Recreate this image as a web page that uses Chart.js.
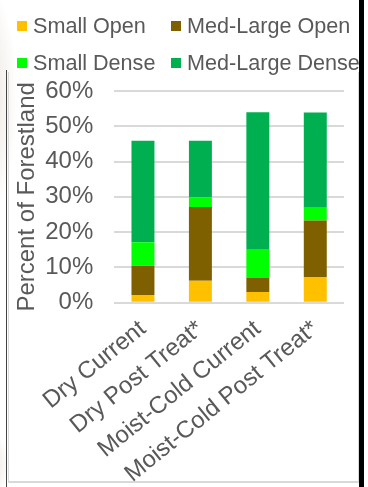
<!DOCTYPE html>
<html>
<head>
<meta charset="utf-8">
<script src="https://cdn.jsdelivr.net/npm/chart.js@4"></script>
<style>
  html, body { margin: 0; padding: 0; background: #fff; }
  body { width: 368px; height: 487px; position: relative; overflow: hidden; font-family: "Liberation Sans", Arial, sans-serif; }
  #sketchTop { position: absolute; left: -30px; top: -20px; width: 48px; height: 240px; background: radial-gradient(ellipse at 30% 50%, rgba(190,170,150,0.35), rgba(255,255,255,0) 70%); }
  #sketchBot { position: absolute; left: -20px; top: 430px; width: 30px; height: 70px; background: radial-gradient(ellipse at 30% 50%, rgba(190,170,150,0.35), rgba(255,255,255,0) 70%); }
  #darkLine { position: absolute; left: 6px; top: 70px; width: 1px; height: 417px; background: #444; }
  #panel { position: absolute; left: 8px; top: 72px; width: 349px; height: 409px; border-left: 1px solid #d9d9d9; border-right: 2px solid #d9d9d9; border-bottom: 2px solid #d9d9d9; }
  #blackBar { position: absolute; left: 359px; top: 0; width: 5px; height: 487px; background: #000; }
  #hourChart { position: absolute; left: 0; top: 0; }
  .lg { position: absolute; display: flex; align-items: center; font-size: 21.6px; color: #595959; line-height: 1; white-space: nowrap; }
  .lg span.box { width: 10px; height: 10px; margin-right: 6px; display: inline-block; }
</style>
</head>
<body>
<div id="sketchTop"></div>
<div id="sketchBot"></div>
<div id="darkLine"></div>
<div id="panel"></div>
<canvas id="hourChart" width="368" height="487"></canvas>
<div id="legend"></div>
<div id="blackBar"></div>
<script>
const categories = ["Dry Current", "Dry Post Treat*", "Moist-Cold Current", "Moist-Cold Post Treat*"];
const seriesNames = ["Small Open", "Med-Large Open", "Small Dense", "Med-Large Dense"];
const seriesColors = ["#FFC000", "#7F6000", "#00FF00", "#00B050"];
const smallOpen = [2.2, 6.2, 3.0, 7.3];
const medLargeOpen = [8.3, 20.9, 4.0, 16.0];
const smallDense = [6.6, 2.8, 8.0, 3.6];
const medLargeDense = [28.8, 16.0, 39.0, 27.0];
const yTicks = [0, 10, 20, 30, 40, 50, 60];

(() => {
    document.addEventListener("DOMContentLoaded", init);

    function init() {
        renderLegend();
        renderChart();
    }

    function renderLegend() {
        // two columns, two rows like the original slide
        const spots = [[17, 15], [171, 15], [17, 52], [171, 52]];
        const legend = document.getElementById("legend");
        seriesNames.forEach((name, i) => {
            const item = document.createElement("div");
            item.className = "lg";
            item.style.left = spots[i][0] + "px";
            item.style.top = spots[i][1] + "px";
            item.innerHTML = `<span class="box" style="background:${seriesColors[i]}"></span>${name}`;
            legend.appendChild(item);
        });
    }

    function renderChart() {
        const ctx = document.getElementById("hourChart");
        const values = [smallOpen, medLargeOpen, smallDense, medLargeDense];
        const grey = "#595959";
        const font = { family: "'Liberation Sans', Arial, sans-serif", size: 24 };

        new Chart(ctx, {
            type: "bar",
            data: {
                labels: categories,
                datasets: seriesNames.map((name, i) => ({
                    label: name,
                    data: values[i],
                    backgroundColor: seriesColors[i],
                    barPercentage: 0.4,
                    categoryPercentage: 1
                }))
            },
            options: {
                responsive: false,
                animation: false,
                layout: { padding: { top: 91, right: 24, bottom: 0, left: 0 } },
                plugins: {
                    legend: { display: false },
                    tooltip: {
                        callbacks: {
                            label: c => `${c.dataset.label}: ${c.raw}%`
                        }
                    }
                },
                scales: {
                    x: {
                        stacked: true,
                        grid: { display: false },
                        border: { display: false },
                        ticks: {
                            color: grey,
                            font: font,
                            minRotation: 39,
                            maxRotation: 39,
                            padding: 4
                        },
                        afterFit: s => { s.height = 184.3; }
                    },
                    y: {
                        stacked: true,
                        min: yTicks[0],
                        max: yTicks[yTicks.length - 1],
                        afterBuildTicks: s => { s.ticks = yTicks.map(v => ({ value: v })); },
                        grid: { color: "#d9d9d9", lineWidth: 2, drawTicks: false },
                        border: { display: false },
                        ticks: {
                            color: grey,
                            font: font,
                            padding: 21,
                            callback: v => `${v}%`
                        },
                        title: {
                            display: true,
                            text: "Percent of Forestland",
                            color: grey,
                            font: font,
                            padding: { top: 13, bottom: 0 }
                        },
                        afterFit: s => { s.width = 114.25; }
                    }
                }
            }
        });
    }
})();
</script>
</body>
</html>
